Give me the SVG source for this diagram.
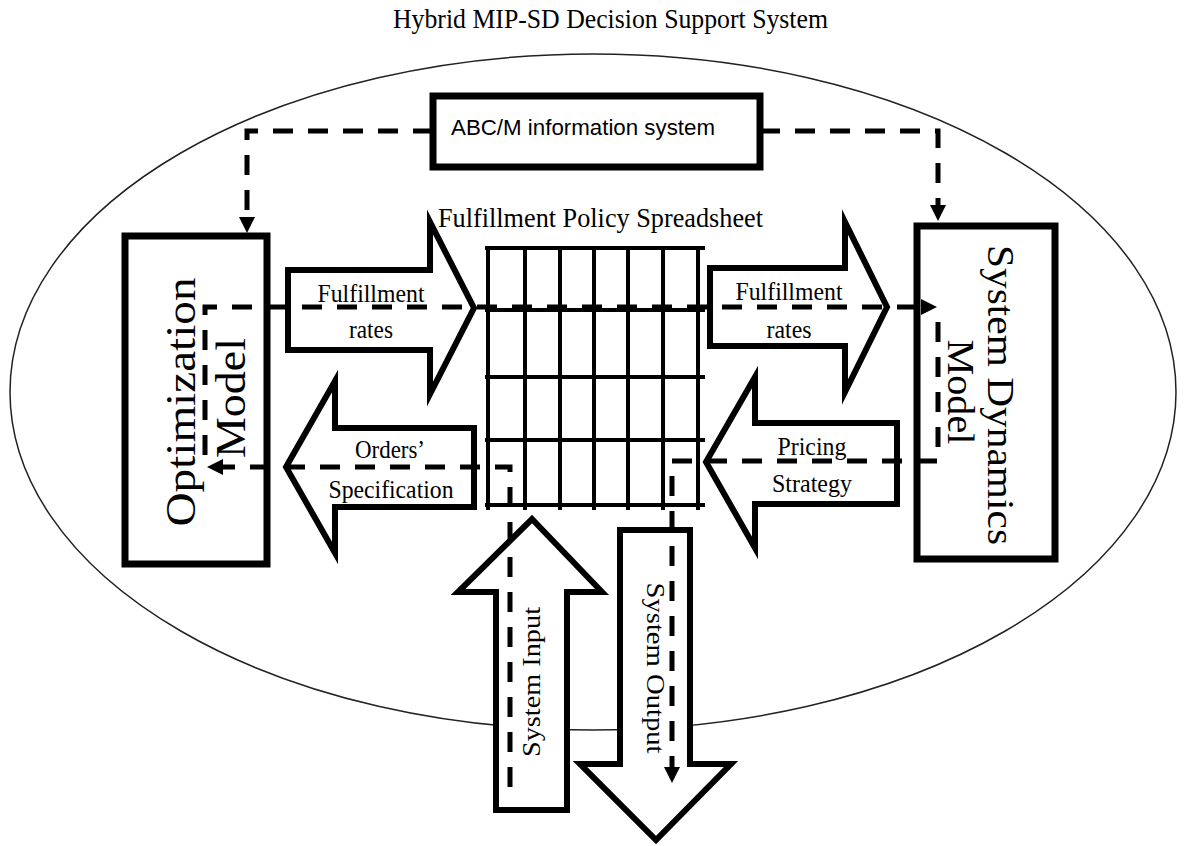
<svg xmlns="http://www.w3.org/2000/svg" width="1184" height="846" viewBox="0 0 1184 846">
<style>
.ln{fill:none;stroke:#000;stroke-width:5;stroke-dasharray:20 15}
.box{fill:#fff;stroke:#000;stroke-width:7}
.blk{fill:#fff;stroke:#000;stroke-width:6;stroke-linejoin:miter;stroke-miterlimit:10}
.grid{stroke:#000;stroke-width:4}
.serif{font-family:"Liberation Serif","Times New Roman",serif;fill:#000}
.sans{font-family:"Liberation Sans",Arial,sans-serif;fill:#000}
</style>
<defs>
<marker id="ah" viewBox="0 0 16 16" refX="6" refY="8" markerWidth="16" markerHeight="16" markerUnits="userSpaceOnUse" orient="auto"><path d="M0,0 L16,8 L0,16 z" fill="#000"/></marker>
</defs>
<rect width="1184" height="846" fill="#fff"/>
<text class="serif" x="610.5" y="28" font-size="27" text-anchor="middle" textLength="435" lengthAdjust="spacingAndGlyphs">Hybrid MIP-SD Decision Support System</text>
<ellipse id="boundary" cx="593" cy="392" rx="583" ry="338" fill="none" stroke="#222" stroke-width="1.5"/>

<g id="abc">
<rect class="box" x="433" y="96" width="327" height="71" stroke-width="6"/>
<text class="sans" x="451" y="135" font-size="22" textLength="264" lengthAdjust="spacingAndGlyphs">ABC/M information system</text>
</g>

<g id="optimization">
<rect class="box" x="125" y="236" width="142" height="328"/>
<text class="serif" transform="translate(195,402) rotate(-90)" font-size="42" text-anchor="middle" textLength="249" lengthAdjust="spacingAndGlyphs">Optimization</text>
<text class="serif" transform="translate(245,398) rotate(-90)" font-size="42" text-anchor="middle" textLength="120" lengthAdjust="spacingAndGlyphs">Model</text>
</g>

<g id="sd">
<rect class="box" x="917" y="226" width="138" height="333"/>
<text class="serif" transform="translate(988,395) rotate(90)" font-size="38" text-anchor="middle" textLength="300" lengthAdjust="spacingAndGlyphs">System Dynamics</text>
<text class="serif" transform="translate(948,392) rotate(90)" font-size="38" text-anchor="middle" textLength="105" lengthAdjust="spacingAndGlyphs">Model</text>
</g>

<g id="spreadsheet">
<text class="serif" x="438" y="227" font-size="27" textLength="325" lengthAdjust="spacingAndGlyphs">Fulfillment Policy Spreadsheet</text>
<g class="grid">
<line x1="485" y1="248" x2="705" y2="248"/>
<line x1="485" y1="310" x2="705" y2="310"/>
<line x1="485" y1="377" x2="705" y2="377"/>
<line x1="485" y1="440" x2="705" y2="440"/>
<line x1="485" y1="505" x2="705" y2="505"/>
<line x1="488" y1="246" x2="488" y2="510"/>
<line x1="525" y1="246" x2="525" y2="510"/>
<line x1="560" y1="246" x2="560" y2="510"/>
<line x1="594" y1="246" x2="594" y2="510"/>
<line x1="628" y1="246" x2="628" y2="510"/>
<line x1="663" y1="246" x2="663" y2="510"/>
<line x1="698" y1="246" x2="698" y2="510"/>
</g>
</g>

<g id="arrow-fr-left">
<path class="blk" d="M288,270 H430 V222 L474,308 L430,394 V350 H288 Z"/>
<text class="serif" x="371" y="302" font-size="26" text-anchor="middle" textLength="107" lengthAdjust="spacingAndGlyphs">Fulfillment</text>
<text class="serif" x="371" y="338" font-size="26" text-anchor="middle" textLength="44" lengthAdjust="spacingAndGlyphs">rates</text>
</g>

<g id="arrow-fr-right">
<path class="blk" d="M710,268 H845 V222 L887,307 L845,392 V346 H710 Z"/>
<text class="serif" x="789" y="300" font-size="26" text-anchor="middle" textLength="107" lengthAdjust="spacingAndGlyphs">Fulfillment</text>
<text class="serif" x="789" y="338" font-size="26" text-anchor="middle" textLength="45" lengthAdjust="spacingAndGlyphs">rates</text>
</g>

<g id="arrow-orders">
<path class="blk" d="M286,467 L335,381 V428 H474 V507 H335 V553 Z"/>
<text class="serif" x="390" y="458" font-size="25" text-anchor="middle" textLength="70" lengthAdjust="spacingAndGlyphs">Orders’</text>
<text class="serif" x="391" y="498" font-size="25" text-anchor="middle" textLength="125" lengthAdjust="spacingAndGlyphs">Specification</text>
</g>

<g id="arrow-pricing">
<path class="blk" d="M706,462 L755,377 V423 H897 V504 H755 V548 Z"/>
<text class="serif" x="812" y="455" font-size="25" text-anchor="middle" textLength="69" lengthAdjust="spacingAndGlyphs">Pricing</text>
<text class="serif" x="812" y="492" font-size="25" text-anchor="middle" textLength="80" lengthAdjust="spacingAndGlyphs">Strategy</text>
</g>

<g id="arrow-input">
<path class="blk" d="M532,519 L602,592 H567 V810 H496 V592 H458 Z"/>
<text class="serif" transform="translate(540,682) rotate(-90)" font-size="26" text-anchor="middle" textLength="150" lengthAdjust="spacingAndGlyphs">System Input</text>
</g>

<g id="arrow-output">
<path class="blk" d="M620,530 H690 V764 H731 L656,840 L580,764 H620 Z"/>
<text class="serif" transform="translate(647,668) rotate(90)" font-size="26" text-anchor="middle" textLength="171" lengthAdjust="spacingAndGlyphs">System Output</text>
</g>

<g id="connectors">
<path class="ln" d="M433,131 H247 V223" marker-end="url(#ah)"/>
<path class="ln" d="M760,131 H938 V211" marker-end="url(#ah)"/>
<path class="ln" d="M205,455 V307 H927" marker-end="url(#ah)"/>
<path class="ln" d="M510,787 V467 H217" marker-end="url(#ah)"/>
<path class="ln" d="M938,322 V461 H672 V773" marker-end="url(#ah)"/>
</g>
</svg>
